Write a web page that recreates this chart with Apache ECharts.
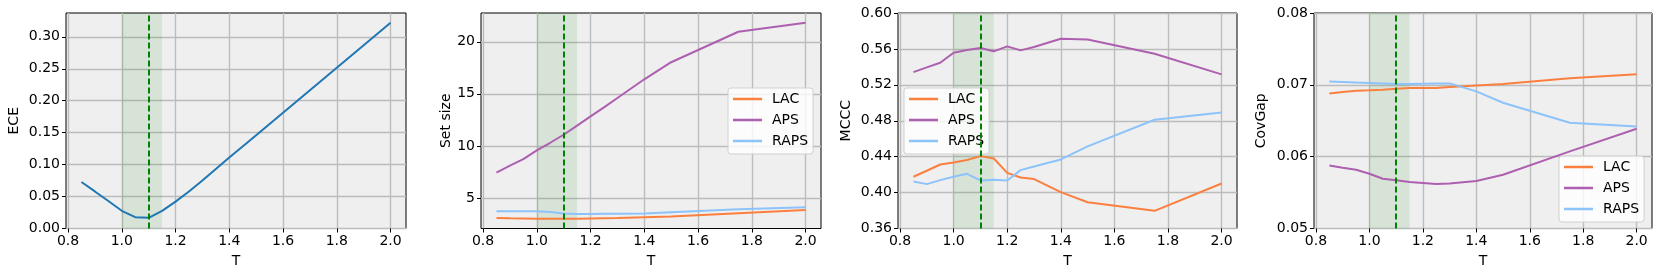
<!DOCTYPE html>
<html>
<head>
<meta charset="utf-8">
<script src="https://cdn.jsdelivr.net/npm/echarts@6/dist/echarts.min.js"></script>
<style>html,body{margin:0;padding:0;background:#fff}#c{width:1661px;height:277px}</style>
</head>
<body>
<div id="c"></div>
<script>
const T = [0.85,0.9,0.95,1.0,1.05,1.1,1.15,1.2,1.25,1.3,1.4,1.5,1.75,2.0];
const xTicks = [0.8,1.0,1.2,1.4,1.6,1.8,2.0];

const ECE = [0.0727,0.058,0.043,0.0277,0.0178,0.0167,0.0277,0.042,0.058,0.075,0.111,0.146,0.234,0.322];

const setLAC  = [3.07,3.04,3.02,3.0,3.0,3.0,3.0,3.02,3.04,3.06,3.14,3.22,3.53,3.84];
const setAPS  = [7.44,8.1,8.73,9.56,10.3,11.07,11.95,12.84,13.7,14.6,16.4,18.04,20.97,21.83];
const setRAPS = [3.72,3.72,3.72,3.72,3.65,3.5,3.46,3.46,3.47,3.48,3.5,3.62,3.9,4.1];

const mcccLAC  = [0.4176,0.4243,0.4313,0.4336,0.4362,0.4406,0.4380,0.4220,0.4168,0.4150,0.4005,0.3893,0.3797,0.4101];
const mcccAPS  = [0.5342,0.5394,0.5446,0.5558,0.5587,0.5610,0.5573,0.5628,0.5584,0.5621,0.5714,0.5706,0.5547,0.5316];
const mcccRAPS = [0.4124,0.4094,0.4139,0.4176,0.4209,0.4135,0.4142,0.4135,0.4250,0.4291,0.4369,0.4514,0.4811,0.4893];

const covLAC  = [0.06881,0.06900,0.06918,0.06923,0.06932,0.06946,0.06955,0.06955,0.06955,0.06970,0.06992,0.07011,0.07090,0.07146];
const covAPS  = [0.05878,0.05845,0.05817,0.05762,0.05692,0.05673,0.05646,0.05632,0.05618,0.05627,0.05660,0.05748,0.06073,0.06389];
const covRAPS = [0.07048,0.07040,0.07032,0.07025,0.07018,0.07011,0.07010,0.07016,0.07018,0.07020,0.06909,0.06751,0.06472,0.06421];

const yTicks1 = [0,0.05,0.10,0.15,0.20,0.25,0.30];
const yTicks2 = [5,10,15,20];
const yTicks3 = [0.36,0.40,0.44,0.48,0.52,0.56,0.60];
const yTicks4 = [0.05,0.06,0.07,0.08];

const yNames = ['ECE','Set size','MCCC','CovGap'];
const methods = ['LAC','APS','RAPS'];
const colors = {LAC:'#fb8040', APS:'#ad5fb0', RAPS:'#8dc3fb', ECE:'#1f77b4'};

const FONT = 'DejaVu Sans';
const FS = 14;
const gridPos = [
  {left:66, width:340},
  {left:481, width:340},
  {left:898, width:339},
  {left:1314, width:338}
];
const yCfg = [
  {min:0, max:0.3373, ticks:yTicks1, dec:2, gap:45},
  {min:2.06, max:22.77, ticks:yTicks2, dec:0, gap:28},
  {min:0.36, max:0.60, ticks:yTicks3, dec:2, gap:45},
  {min:0.05, max:0.08, ticks:yTicks4, dec:2, gap:46}
];

const grids = gridPos.map(g => ({
  left:g.left, width:g.width, top:13, height:215.5, show:true,
  backgroundColor:'#efefef', borderColor:'#000', borderWidth:1
}));

const xAxes = gridPos.map((g,i) => ({
  type:'value', gridIndex:i, min:0.7925, max:2.0575,
  name:'T', nameLocation:'middle', nameGap:26,
  nameTextStyle:{fontFamily:FONT, fontSize:FS, color:'#000'},
  axisLine:{show:false},
  axisTick:{show:true, inside:false, length:4, lineStyle:{color:'#000'}, customValues:xTicks},
  axisLabel:{customValues:xTicks, fontFamily:FONT, fontSize:FS, color:'#000', margin:6,
    formatter:v=>v.toFixed(1)},
  splitLine:{show:true, lineStyle:{color:'#bcbcbc', width:1.4}}
}));

const yAxes = yCfg.map((c,i) => ({
  type:'value', gridIndex:i, min:c.min, max:c.max,
  name:yNames[i], nameLocation:'middle', nameGap:c.gap, nameRotate:90,
  nameTextStyle:{fontFamily:FONT, fontSize:FS, color:'#000'},
  axisLine:{show:false},
  axisTick:{show:true, inside:false, length:4, lineStyle:{color:'#000'}, customValues:c.ticks},
  axisLabel:{customValues:c.ticks, fontFamily:FONT, fontSize:FS, color:'#000', margin:6,
    formatter:v=>v.toFixed(c.dec)},
  splitLine:{show:true, lineStyle:{color:'#bcbcbc', width:1.4}}
}));

function pairs(arr){ return T.map((t,k)=>[t, arr[k]]); }

const markArea = {silent:true, itemStyle:{color:'rgba(0,128,0,0.1)'}, data:[[{xAxis:1.0},{xAxis:1.15}]]};
const markLine = {silent:true, symbol:['none','none'], label:{show:false},
  lineStyle:{color:'#008000', type:[6,3], width:2}, data:[{xAxis:1.1}]};

function mkSeries(name, arr, gi, first){
  const s = {type:'line', name:name, xAxisIndex:gi, yAxisIndex:gi, data:pairs(arr),
    showSymbol:false, symbol:'none', lineStyle:{color:colors[name], width:2}, itemStyle:{color:colors[name]},
    z:3, animation:false};
  if(first){ s.markArea = markArea; s.markLine = markLine; }
  return s;
}

const series = [
  mkSeries('ECE', ECE, 0, true),
  mkSeries('LAC', setLAC, 1, true), mkSeries('APS', setAPS, 1, false), mkSeries('RAPS', setRAPS, 1, false),
  mkSeries('LAC', mcccLAC, 2, true), mkSeries('APS', mcccAPS, 2, false), mkSeries('RAPS', mcccRAPS, 2, false),
  mkSeries('LAC', covLAC, 3, true), mkSeries('APS', covAPS, 3, false), mkSeries('RAPS', covRAPS, 3, false)
];

function mkLegend(left, top){
  return {orient:'vertical', left:left, top:top, data:methods, icon:'rect', itemWidth:29, itemHeight:2.5,
    itemGap:5, padding:[3,5,5,5], backgroundColor:'rgba(255,255,255,0.8)', borderColor:'#d0d0d0',
    borderWidth:1, borderRadius:3, selectedMode:false,
    textStyle:{fontFamily:FONT, fontSize:FS, color:'#000', lineHeight:16, padding:[0,0,0,5]}};
}

const chart = echarts.init(document.getElementById('c'), null, {renderer:'canvas'});
chart.setOption({
  animation:false,
  grid:grids, xAxis:xAxes, yAxis:yAxes, series:series,
  legend:[mkLegend(728,88), mkLegend(904,88), mkLegend(1559,156)]
});
</script>
</body>
</html>
